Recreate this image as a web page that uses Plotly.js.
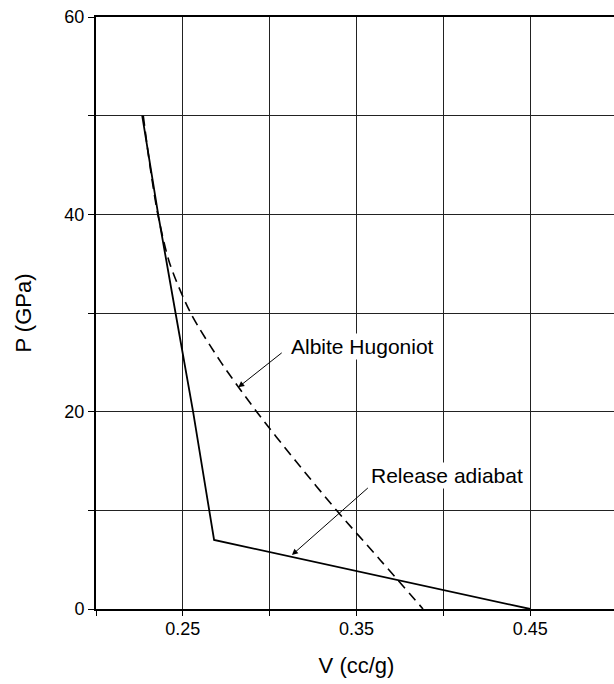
<!DOCTYPE html>
<html>
<head>
<meta charset="utf-8">
<script src="https://cdn.plot.ly/plotly-3.0.1.min.js"></script>
<style>
html, body { margin: 0; padding: 0; overflow: hidden; background: #fff; }
#chart { width: 620px; height: 684px; }
</style>
</head>
<body>
<div id="chart"></div>
<script>
// Albite Hugoniot (dashed)
var hugV = [0.2272, 0.2310, 0.2356, 0.2425, 0.2545, 0.2720, 0.2925, 0.3150, 0.3385, 0.3635, 0.3883];
var hugP = [50, 45, 40, 35, 30, 25, 20, 15, 10, 5, 0];
// Release adiabat (solid)
var relV = [0.2266, 0.2358, 0.2458, 0.2559, 0.268, 0.45];
var relP = [50, 40, 30, 20, 7, 0];

var xTickVals = [0.20, 0.25, 0.30, 0.35, 0.40, 0.45, 0.50];
var xTickText = ['', '0.25', '', '0.35', '', '0.45', ''];
var yTickVals = [0, 10, 20, 30, 40, 50, 60];
var yTickText = ['0', '', '20', '', '40', '', '60'];

var labelHug = 'Albite Hugoniot';
var labelRel = 'Release adiabat';

var FONT = 'Liberation Sans, Arial, Helvetica, sans-serif';

var traces = [
  { x: hugV, y: hugP, mode: 'lines', type: 'scatter',
    line: { color: '#000', width: 1.6, dash: '10px,6px', shape: 'spline', smoothing: 0.8 },
    hoverinfo: 'skip', showlegend: false },
  { x: relV, y: relP, mode: 'lines', type: 'scatter',
    line: { color: '#000', width: 1.8 },
    hoverinfo: 'skip', showlegend: false }
];

var layout = {
  width: 620, height: 684,
  margin: { l: 96, r: 3, t: 17, b: 75 },
  paper_bgcolor: '#fff', plot_bgcolor: '#fff',
  font: { family: FONT, color: '#000', size: 18 },
  showlegend: false,
  xaxis: {
    range: [0.2, 0.5],
    tickmode: 'array', tickvals: xTickVals, ticktext: xTickText,
    ticks: 'outside', ticklen: 5, tickwidth: 1, tickcolor: '#000',
    ticklabelstandoff: -3,
    showgrid: true, gridcolor: '#222', gridwidth: 1,
    zeroline: false,
    showline: true, linecolor: '#000', linewidth: 2, mirror: true,
    tickfont: { size: 18, family: FONT },
    title: { text: 'V (cc/g)', font: { size: 22, family: FONT }, standoff: 20 }
  },
  yaxis: {
    range: [0, 60],
    tickmode: 'array', tickvals: yTickVals, ticktext: yTickText,
    ticks: 'outside', ticklen: 6, tickwidth: 1, tickcolor: '#000',
    showgrid: true, gridcolor: '#222', gridwidth: 1,
    zeroline: false,
    showline: true, linecolor: '#000', linewidth: 2, mirror: true,
    tickfont: { size: 18, family: FONT },
    title: { text: 'P (GPa)', font: { size: 22, family: FONT }, standoff: 27 }
  },
  annotations: [
    { x: 0.3111, y: 26.65, xref: 'x', yref: 'y', text: labelHug, showarrow: false,
      xanchor: 'left', yanchor: 'middle', bgcolor: '#fff', borderpad: 1,
      font: { size: 21, family: FONT, color: '#000' } },
    { x: 0.2819, y: 22.47, ax: 0.3078, ay: 26.08, xref: 'x', yref: 'y', axref: 'x', ayref: 'y',
      text: '', showarrow: true, arrowhead: 2, arrowsize: 1.2, arrowwidth: 1, arrowcolor: '#000', standoff: 0 },
    { x: 0.3574, y: 13.58, xref: 'x', yref: 'y', text: labelRel, showarrow: false,
      xanchor: 'left', yanchor: 'middle', bgcolor: '#fff', borderpad: 1,
      font: { size: 21, family: FONT, color: '#000' } },
    { x: 0.3128, y: 5.47, ax: 0.3574, ay: 12.40, xref: 'x', yref: 'y', axref: 'x', ayref: 'y',
      text: '', showarrow: true, arrowhead: 2, arrowsize: 1.2, arrowwidth: 1, arrowcolor: '#000', standoff: 0 }
  ]
};

Plotly.newPlot('chart', traces, layout, { staticPlot: true, displayModeBar: false });
</script>
</body>
</html>
